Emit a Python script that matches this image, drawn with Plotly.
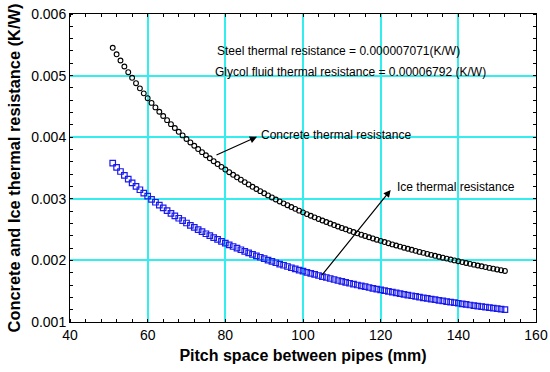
import plotly.graph_objects as go

pitch_mm = list(range(51, 153))

concrete_kw = [
    5.451e-3, 5.346e-3, 5.245e-3, 5.148e-3, 5.055e-3, 4.964e-3, 4.877e-3, 4.793e-3, 4.712e-3, 4.633e-3,
    4.557e-3, 4.484e-3, 4.413e-3, 4.344e-3, 4.277e-3, 4.212e-3, 4.149e-3, 4.088e-3, 4.029e-3, 3.971e-3,
    3.915e-3, 3.861e-3, 3.808e-3, 3.757e-3, 3.707e-3, 3.658e-3, 3.610e-3, 3.564e-3, 3.519e-3, 3.475e-3,
    3.432e-3, 3.390e-3, 3.349e-3, 3.310e-3, 3.271e-3, 3.233e-3, 3.195e-3, 3.159e-3, 3.124e-3, 3.089e-3,
    3.055e-3, 3.022e-3, 2.989e-3, 2.957e-3, 2.926e-3, 2.896e-3, 2.866e-3, 2.837e-3, 2.808e-3, 2.780e-3,
    2.752e-3, 2.725e-3, 2.699e-3, 2.673e-3, 2.648e-3, 2.623e-3, 2.598e-3, 2.574e-3, 2.550e-3, 2.527e-3,
    2.505e-3, 2.482e-3, 2.460e-3, 2.439e-3, 2.417e-3, 2.397e-3, 2.376e-3, 2.356e-3, 2.336e-3, 2.317e-3,
    2.298e-3, 2.279e-3, 2.260e-3, 2.242e-3, 2.224e-3, 2.206e-3, 2.189e-3, 2.172e-3, 2.155e-3, 2.138e-3,
    2.122e-3, 2.106e-3, 2.090e-3, 2.075e-3, 2.059e-3, 2.044e-3, 2.029e-3, 2.014e-3, 2.000e-3, 1.986e-3,
    1.972e-3, 1.958e-3, 1.944e-3, 1.931e-3, 1.917e-3, 1.904e-3, 1.891e-3, 1.878e-3, 1.866e-3, 1.853e-3,
    1.841e-3, 1.829e-3,
]

ice_kw = [
    3.578e-3, 3.510e-3, 3.443e-3, 3.380e-3, 3.318e-3, 3.259e-3, 3.202e-3, 3.147e-3, 3.093e-3, 3.042e-3,
    2.992e-3, 2.944e-3, 2.897e-3, 2.852e-3, 2.808e-3, 2.765e-3, 2.724e-3, 2.684e-3, 2.645e-3, 2.607e-3,
    2.570e-3, 2.535e-3, 2.500e-3, 2.466e-3, 2.433e-3, 2.401e-3, 2.370e-3, 2.340e-3, 2.310e-3, 2.281e-3,
    2.253e-3, 2.226e-3, 2.199e-3, 2.173e-3, 2.147e-3, 2.122e-3, 2.098e-3, 2.074e-3, 2.051e-3, 2.028e-3,
    2.005e-3, 1.984e-3, 1.962e-3, 1.941e-3, 1.921e-3, 1.901e-3, 1.881e-3, 1.862e-3, 1.843e-3, 1.825e-3,
    1.807e-3, 1.789e-3, 1.772e-3, 1.755e-3, 1.738e-3, 1.722e-3, 1.706e-3, 1.690e-3, 1.674e-3, 1.659e-3,
    1.644e-3, 1.629e-3, 1.615e-3, 1.601e-3, 1.587e-3, 1.573e-3, 1.560e-3, 1.547e-3, 1.534e-3, 1.521e-3,
    1.508e-3, 1.496e-3, 1.484e-3, 1.472e-3, 1.460e-3, 1.448e-3, 1.437e-3, 1.426e-3, 1.415e-3, 1.404e-3,
    1.393e-3, 1.383e-3, 1.372e-3, 1.362e-3, 1.352e-3, 1.342e-3, 1.332e-3, 1.322e-3, 1.313e-3, 1.304e-3,
    1.294e-3, 1.285e-3, 1.276e-3, 1.267e-3, 1.259e-3, 1.250e-3, 1.241e-3, 1.233e-3, 1.225e-3, 1.217e-3,
    1.209e-3, 1.201e-3,
]

x_ticks = [40, 60, 80, 100, 120, 140, 160]
y_ticks = [0.001, 0.002, 0.003, 0.004, 0.005, 0.006]
y_tick_labels = ["0.001", "0.002", "0.003", "0.004", "0.005", "0.006"]

FONT = "Liberation Sans, Arial, sans-serif"
GRID = "#33eeee"

L, R, T, B = 70, 14, 14, 50
W, H = 550, 372
pw, ph = W - L - R, H - T - B

fig = go.Figure()
fig.add_trace(go.Scatter(
    x=pitch_mm, y=concrete_kw, mode="markers", name="Concrete",
    marker=dict(symbol="circle-open", size=4.8, color="black", line=dict(width=1.1)),
))
fig.add_trace(go.Scatter(
    x=pitch_mm, y=ice_kw, mode="markers", name="Ice",
    marker=dict(symbol="square-open", size=5.5, color="#1a1aee", line=dict(width=1.2)),
))

axis_common = dict(
    showline=True, linecolor="black", linewidth=1, mirror="allticks",
    ticks="", showgrid=True, gridcolor=GRID, gridwidth=1.5, zeroline=False,
    tickfont=dict(family=FONT, size=14, color="black"), automargin=False,
)

fig.update_xaxes(
    range=[40, 160], tickvals=x_ticks, ticktext=[str(v) for v in x_ticks],
    minor=dict(dtick=4, tick0=40, ticks="inside", ticklen=3, tickcolor="black", showgrid=False),
    title=dict(text="<b>Pitch space between pipes (mm)</b>", font=dict(family=FONT, size=16, color="black"), standoff=8),
    **axis_common,
)
fig.update_yaxes(
    range=[0.001, 0.006], tickvals=y_ticks, ticktext=y_tick_labels,
    minor=dict(dtick=0.0002, tick0=0.001, ticks="inside", ticklen=3, tickcolor="black", showgrid=False),
    title=dict(text="<b>Concrete and Ice thermal resistance (K/W)</b>", font=dict(family=FONT, size=16.4, color="black"), standoff=6),
    **axis_common,
)

ann_font = dict(family=FONT, size=12, color="black")


def px2paper(px, py):
    return (px - L) / pw, 1 - (py - T) / ph


def px2data(px, py):
    xv = 40 + (px - L) / pw * 120
    yv = 0.006 - (py - T) / ph * 0.005
    return xv, yv


sx, sy = px2paper(215, 50.7)
fig.add_annotation(x=sx, y=sy, xref="paper", yref="paper", text="Steel thermal resistance = 0.000007071(K/W)",
                   showarrow=False, font=ann_font, xanchor="left", yanchor="middle")
gx, gy = px2paper(212.7, 71.7)
fig.add_annotation(x=gx, y=gy, xref="paper", yref="paper", text="Glycol fluid thermal resistance = 0.00006792 (K/W)",
                   showarrow=False, font=ann_font, xanchor="left", yanchor="middle")

cx, cy = px2data(259, 135)
fig.add_annotation(x=cx, y=cy, xref="x", yref="y", text="Concrete thermal resistance", showarrow=False,
                   font=ann_font, xanchor="left", yanchor="middle")
ix, iy = px2data(395, 186.5)
fig.add_annotation(x=ix, y=iy, xref="x", yref="y", text="Ice thermal resistance", showarrow=False,
                   font=ann_font, xanchor="left", yanchor="middle")

hx, hy = px2data(257, 136.7)
tx, ty = px2data(215, 155.7)
fig.add_annotation(x=hx, y=hy, ax=tx, ay=ty, xref="x", yref="y", axref="x", ayref="y", text="",
                   showarrow=True, arrowhead=2, arrowsize=1.2, arrowwidth=1.2, arrowcolor="black")
hx, hy = px2data(390.7, 190)
tx, ty = px2data(320.7, 276.7)
fig.add_annotation(x=hx, y=hy, ax=tx, ay=ty, xref="x", yref="y", axref="x", ayref="y", text="",
                   showarrow=True, arrowhead=2, arrowsize=1.2, arrowwidth=1.2, arrowcolor="black")

fig.update_layout(
    width=W, height=H, margin=dict(l=L, r=R, t=T, b=B),
    paper_bgcolor="white", plot_bgcolor="white", showlegend=False,
)

fig.write_html("out.html", config={"displayModeBar": False},
               post_script="document.body.style.margin='0px';")
